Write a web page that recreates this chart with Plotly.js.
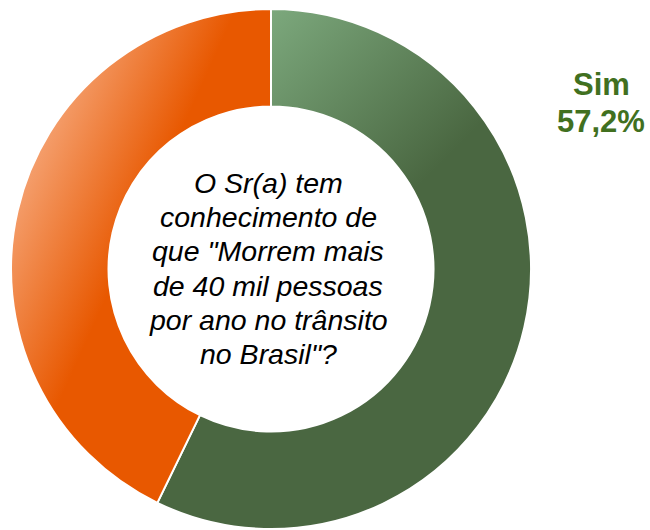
<!DOCTYPE html>
<html>
<head>
<meta charset="utf-8">
<script src="https://cdn.plot.ly/plotly-3.0.1.min.js"></script>
<style>html,body{margin:0;padding:0;background:#fff;}#chart{width:650px;height:530px;}</style>
</head>
<body>
<div id="chart"></div>
<script>
// ---- data ----
var categories = ["Sim", "Não"];
var values = [57.2, 42.8];
var sliceColors = ["#4a6741", "#e85800"];
var labelText = ["Sim", "57,2%"];
var centerLines = [
  "O Sr(a) tem",
  "conhecimento de",
  "que \"Morrem mais",
  "de 40 mil pessoas",
  "por ano no trânsito",
  "no Brasil\"?"
];

// ---- layout helpers ----
var W = 650, H = 530;
var cxPix = 271, cyPix = 269, R = 260;
function px(x){ return x / W; }
function py(y){ return 1 - y / H; }

var annotations = [];
centerLines.forEach(function(t, i){
  annotations.push({
    text: t, xref: "paper", yref: "paper",
    x: px(268), y: py(183 + i * 34.2),
    xanchor: "center", yanchor: "middle", showarrow: false,
    font: {family: "Liberation Sans, Arial, sans-serif", size: 28.5, color: "#000", style: "italic"}
  });
});
labelText.forEach(function(t, i){
  annotations.push({
    text: "<b>" + t + "</b>", xref: "paper", yref: "paper",
    x: px(601), y: py(85 + i * 36),
    xanchor: "center", yanchor: "middle", showarrow: false,
    font: {family: "Liberation Sans, Arial, sans-serif", size: 31, color: "#41701f"}
  });
});

var trace = {
  type: "pie",
  labels: categories,
  values: values,
  hole: 0.625,
  sort: false,
  direction: "clockwise",
  rotation: 0,
  textinfo: "none",
  hoverinfo: "label+percent",
  marker: {colors: sliceColors, line: {color: "#ffffff", width: 2}},
  domain: {x: [px(cxPix - R), px(cxPix + R)], y: [py(cyPix + R), py(cyPix - R)]},
  showlegend: false
};

var layout = {
  width: W, height: H,
  margin: {l: 0, r: 0, t: 0, b: 0, pad: 0},
  paper_bgcolor: "#ffffff",
  showlegend: false,
  annotations: annotations
};

Plotly.newPlot("chart", [trace], layout, {displayModeBar: false, staticPlot: true}).then(function(gd){
  var svg = gd.querySelector("svg.main-svg");
  var ns = "http://www.w3.org/2000/svg";
  var paths = gd.querySelectorAll(".slice path.surface");
  if (!paths.length) return;
  var bb = paths[0].getBBox();
  var r = bb.height / 2;
  var cx = bb.x + bb.width - r;
  var cy = bb.y + r;
  var defs = document.createElementNS(ns, "defs");
  function grad(id, x1, y1, x2, y2, c1, c2){
    var g = document.createElementNS(ns, "linearGradient");
    g.setAttribute("id", id);
    g.setAttribute("gradientUnits", "userSpaceOnUse");
    g.setAttribute("x1", cx + x1 * r); g.setAttribute("y1", cy + y1 * r);
    g.setAttribute("x2", cx + x2 * r); g.setAttribute("y2", cy + y2 * r);
    [[0, c1], [1, c2]].forEach(function(s){
      var st = document.createElementNS(ns, "stop");
      st.setAttribute("offset", s[0]);
      st.setAttribute("stop-color", s[1]);
      g.appendChild(st);
    });
    defs.appendChild(g);
  }
  grad("gGreen", -0.05, -1.0, 0.6, -0.35, "#7eab7f", "#4a6741");
  grad("gOrange", -0.89, -0.535, -0.435, -0.33, "#f5a272", "#e85800");
  svg.insertBefore(defs, svg.firstChild);
  paths[0].style.fill = "url(#gGreen)";
  if (paths[1]) paths[1].style.fill = "url(#gOrange)";
});
</script>
</body>
</html>
